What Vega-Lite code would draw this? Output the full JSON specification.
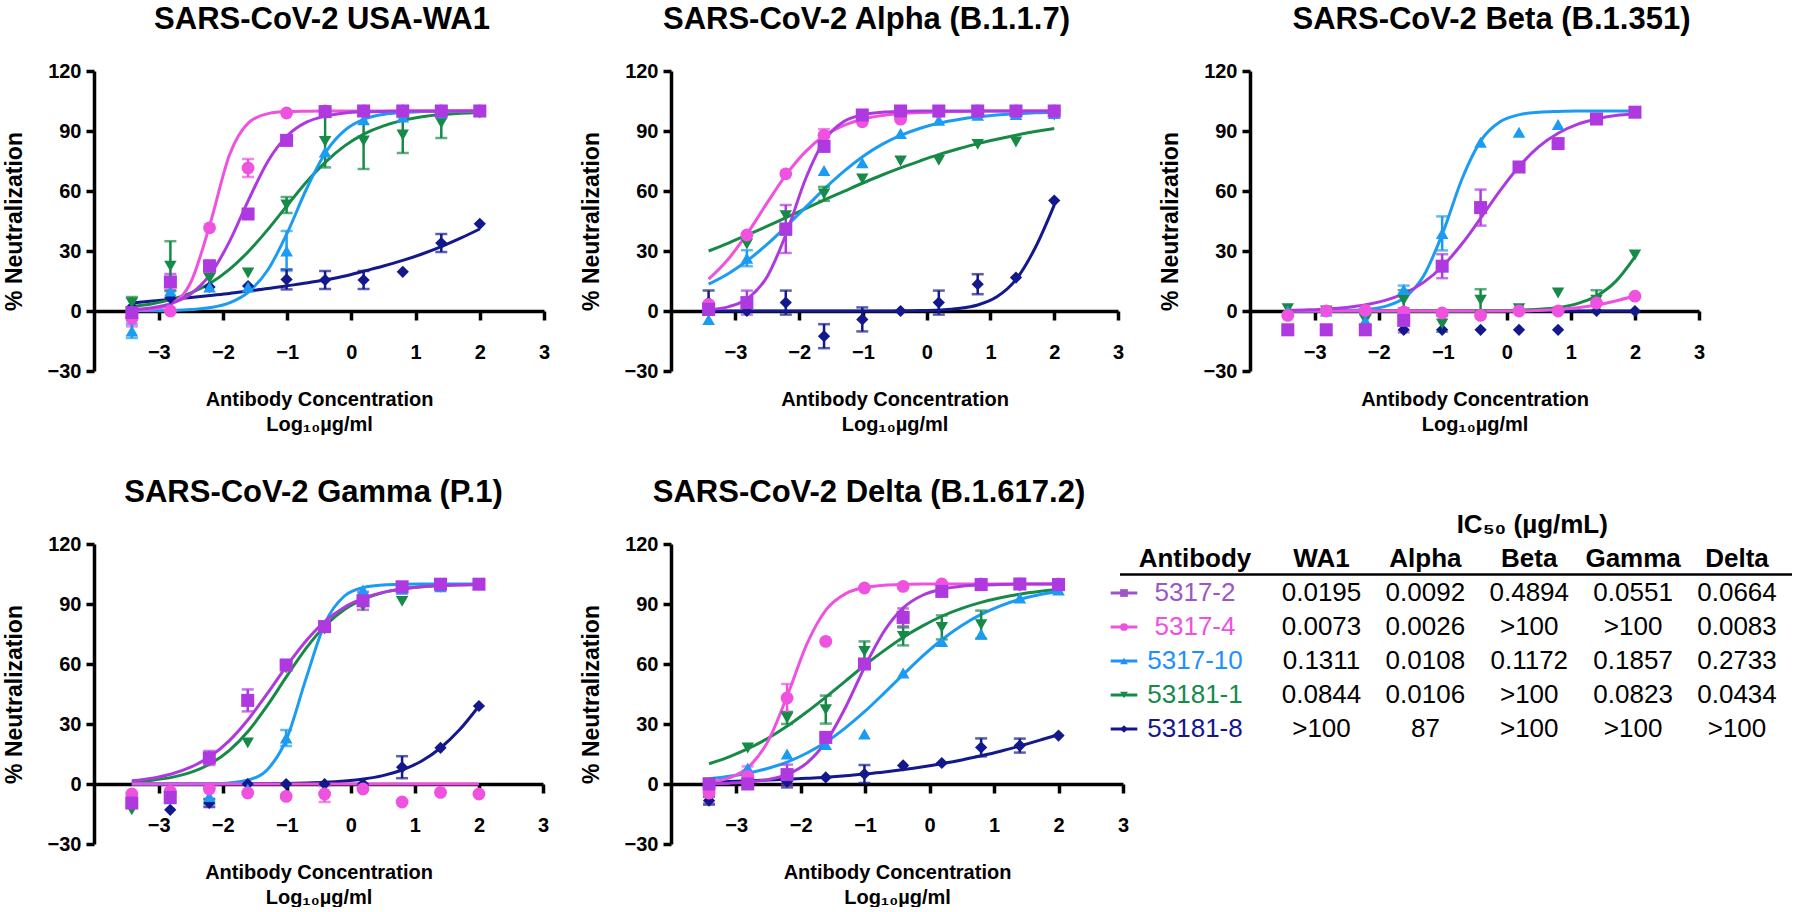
{
"$schema":"https://vega.github.io/schema/vega-lite/v6.json",
"padding":{"left":3,"top":4,"right":0,"bottom":0},
"background":"white",
"bounds":"flush",
"columns":3,
"spacing":{"row":173,"column":127},
"resolve":{"scale":{"color":"independent","shape":"independent","size":"independent"}},
"datasets":{
"curves":[
{"v":"WA1","x":-3.42,"5317-2":0.66,"5317-4":0.16,"5317-10":0.05,"53181-1":2.2,"53181-8":4.0},
{"v":"WA1","x":-3.1,"5317-2":1.65,"5317-4":0.81,"5317-10":0.12,"53181-1":3.65,"53181-8":5.0},
{"v":"WA1","x":-2.8,"5317-2":3.8,"5317-4":3.6,"5317-10":0.29,"53181-1":5.8,"53181-8":5.8},
{"v":"WA1","x":-2.5,"5317-2":8.6,"5317-4":14.5,"5317-10":0.71,"53181-1":9.1,"53181-8":6.8},
{"v":"WA1","x":-2.2,"5317-2":18.3,"5317-4":43.7,"5317-10":1.7,"53181-1":13.9,"53181-8":7.8},
{"v":"WA1","x":-1.9,"5317-2":34.7,"5317-4":78.0,"5317-10":4.1,"53181-1":20.8,"53181-8":8.8},
{"v":"WA1","x":-1.6,"5317-2":55.7,"5317-4":94.2,"5317-10":9.6,"53181-1":29.9,"53181-8":10.0},
{"v":"WA1","x":-1.3,"5317-2":74.9,"5317-4":98.7,"5317-10":20.6,"53181-1":40.8,"53181-8":11.2},
{"v":"WA1","x":-1.0,"5317-2":87.6,"5317-4":99.7,"5317-10":39.0,"53181-1":52.8,"53181-8":12.6},
{"v":"WA1","x":-0.7,"5317-2":94.4,"5317-4":99.9,"5317-10":61.0,"53181-1":64.5,"53181-8":14.0},
{"v":"WA1","x":-0.4,"5317-2":97.5,"5317-4":100,"5317-10":79.4,"53181-1":74.6,"53181-8":15.6},
{"v":"WA1","x":-0.1,"5317-2":99.0,"5317-4":100,"5317-10":90.4,"53181-1":82.7,"53181-8":17.5},
{"v":"WA1","x":0.2,"5317-2":99.6,"5317-4":100,"5317-10":95.9,"53181-1":88.6,"53181-8":20.0},
{"v":"WA1","x":0.5,"5317-2":99.8,"5317-4":100,"5317-10":98.3,"53181-1":92.6,"53181-8":22.5},
{"v":"WA1","x":0.8,"5317-2":99.9,"5317-4":100,"5317-10":99.3,"53181-1":95.3,"53181-8":25.3},
{"v":"WA1","x":1.1,"5317-2":100,"5317-4":100,"5317-10":99.7,"53181-1":97.1,"53181-8":28.5},
{"v":"WA1","x":1.4,"5317-2":100,"5317-4":100,"5317-10":99.9,"53181-1":98.2,"53181-8":32.2},
{"v":"WA1","x":1.7,"5317-2":100,"5317-4":100,"5317-10":100,"53181-1":98.9,"53181-8":36.4},
{"v":"WA1","x":2.0,"5317-2":100,"5317-4":100,"5317-10":100,"53181-1":99.3,"53181-8":41.0},
{"v":"Alpha","x":-3.42,"5317-2":0.7,"5317-4":15.9,"5317-10":13.4,"53181-1":30.0,"53181-8":0},
{"v":"Alpha","x":-3.1,"5317-2":2.2,"5317-4":26.4,"5317-10":18.9,"53181-1":34.1,"53181-8":0},
{"v":"Alpha","x":-2.8,"5317-2":6.4,"5317-4":39.4,"5317-10":25.5,"53181-1":38.2,"53181-8":0},
{"v":"Alpha","x":-2.5,"5317-2":17.3,"5317-4":54.2,"5317-10":33.4,"53181-1":42.4,"53181-8":0},
{"v":"Alpha","x":-2.2,"5317-2":38.9,"5317-4":68.3,"5317-10":42.4,"53181-1":46.8,"53181-8":0},
{"v":"Alpha","x":-1.9,"5317-2":66.0,"5317-4":79.7,"5317-10":51.8,"53181-1":51.2,"53181-8":0},
{"v":"Alpha","x":-1.6,"5317-2":85.5,"5317-4":87.7,"5317-10":61.2,"53181-1":55.6,"53181-8":0},
{"v":"Alpha","x":-1.3,"5317-2":94.7,"5317-4":92.8,"5317-10":69.8,"53181-1":59.8,"53181-8":0},
{"v":"Alpha","x":-1.0,"5317-2":98.2,"5317-4":95.9,"5317-10":77.3,"53181-1":64.0,"53181-8":0},
{"v":"Alpha","x":-0.7,"5317-2":99.4,"5317-4":97.7,"5317-10":83.3,"53181-1":68.0,"53181-8":0.03},
{"v":"Alpha","x":-0.4,"5317-2":99.8,"5317-4":98.7,"5317-10":87.9,"53181-1":71.7,"53181-8":0.09},
{"v":"Alpha","x":-0.1,"5317-2":100,"5317-4":99.3,"5317-10":91.4,"53181-1":75.1,"53181-8":0.21},
{"v":"Alpha","x":0.2,"5317-2":100,"5317-4":99.6,"5317-10":94.0,"53181-1":78.3,"53181-8":0.51},
{"v":"Alpha","x":0.5,"5317-2":100,"5317-4":99.8,"5317-10":95.8,"53181-1":81.1,"53181-8":1.25},
{"v":"Alpha","x":0.8,"5317-2":100,"5317-4":99.9,"5317-10":97.1,"53181-1":83.7,"53181-8":3.0},
{"v":"Alpha","x":1.1,"5317-2":100,"5317-4":100,"5317-10":98.0,"53181-1":85.9,"53181-8":7.1},
{"v":"Alpha","x":1.4,"5317-2":100,"5317-4":100,"5317-10":98.6,"53181-1":87.9,"53181-8":15.7},
{"v":"Alpha","x":1.7,"5317-2":100,"5317-4":100,"5317-10":99.1,"53181-1":89.7,"53181-8":31.5},
{"v":"Alpha","x":2.0,"5317-2":100,"5317-4":100,"5317-10":99.4,"53181-1":91.2,"53181-8":53.0},
{"v":"Beta","x":-3.42,"5317-2":0.34,"5317-4":0,"5317-10":0.01,"53181-1":0,"53181-8":0},
{"v":"Beta","x":-3.1,"5317-2":0.6,"5317-4":0,"5317-10":0.03,"53181-1":0,"53181-8":0},
{"v":"Beta","x":-2.8,"5317-2":1.05,"5317-4":0,"5317-10":0.08,"53181-1":0,"53181-8":0},
{"v":"Beta","x":-2.5,"5317-2":1.8,"5317-4":0,"5317-10":0.26,"53181-1":0,"53181-8":0},
{"v":"Beta","x":-2.2,"5317-2":3.1,"5317-4":0,"5317-10":0.77,"53181-1":0,"53181-8":0},
{"v":"Beta","x":-1.9,"5317-2":5.3,"5317-4":0,"5317-10":2.3,"53181-1":0,"53181-8":0},
{"v":"Beta","x":-1.6,"5317-2":8.8,"5317-4":0,"5317-10":6.6,"53181-1":0,"53181-8":0},
{"v":"Beta","x":-1.3,"5317-2":14.3,"5317-4":0,"5317-10":17.5,"53181-1":0,"53181-8":0},
{"v":"Beta","x":-1.0,"5317-2":22.5,"5317-4":0,"5317-10":39.1,"53181-1":0,"53181-8":0},
{"v":"Beta","x":-0.7,"5317-2":33.6,"5317-4":0,"5317-10":66.0,"53181-1":0.04,"53181-8":0},
{"v":"Beta","x":-0.4,"5317-2":46.8,"5317-4":0,"5317-10":85.4,"53181-1":0.09,"53181-8":0},
{"v":"Beta","x":-0.1,"5317-2":60.4,"5317-4":0,"5317-10":94.7,"53181-1":0.18,"53181-8":0},
{"v":"Beta","x":0.2,"5317-2":72.6,"5317-4":0,"5317-10":98.2,"53181-1":0.39,"53181-8":0},
{"v":"Beta","x":0.5,"5317-2":82.2,"5317-4":0.3,"5317-10":99.4,"53181-1":0.83,"53181-8":0},
{"v":"Beta","x":0.8,"5317-2":88.9,"5317-4":0.8,"5317-10":99.8,"53181-1":1.75,"53181-8":0},
{"v":"Beta","x":1.1,"5317-2":93.3,"5317-4":1.6,"5317-10":100,"53181-1":3.7,"53181-8":0},
{"v":"Beta","x":1.4,"5317-2":96.0,"5317-4":3.0,"5317-10":100,"53181-1":7.5,"53181-8":0},
{"v":"Beta","x":1.7,"5317-2":97.7,"5317-4":5.0,"5317-10":100,"53181-1":14.8,"53181-8":0},
{"v":"Beta","x":2.0,"5317-2":98.6,"5317-4":7.6,"5317-10":100,"53181-1":27.1,"53181-8":0},
{"v":"Gamma","x":-3.42,"5317-2":1.6,"5317-4":0,"5317-10":0,"53181-1":1.0,"53181-8":0},
{"v":"Gamma","x":-3.1,"5317-2":2.9,"5317-4":0,"5317-10":0,"53181-1":1.9,"53181-8":0.01},
{"v":"Gamma","x":-2.8,"5317-2":5.0,"5317-4":0,"5317-10":0.01,"53181-1":3.3,"53181-8":0.01},
{"v":"Gamma","x":-2.5,"5317-2":8.4,"5317-4":0,"5317-10":0.04,"53181-1":5.8,"53181-8":0.02},
{"v":"Gamma","x":-2.2,"5317-2":13.7,"5317-4":0,"5317-10":0.15,"53181-1":10.0,"53181-8":0.04},
{"v":"Gamma","x":-1.9,"5317-2":21.6,"5317-4":0,"5317-10":0.55,"53181-1":16.7,"53181-8":0.06},
{"v":"Gamma","x":-1.6,"5317-2":32.4,"5317-4":0,"5317-10":2.0,"53181-1":26.5,"53181-8":0.1},
{"v":"Gamma","x":-1.3,"5317-2":45.4,"5317-4":0,"5317-10":7.3,"53181-1":39.4,"53181-8":0.18},
{"v":"Gamma","x":-1.0,"5317-2":59.1,"5317-4":0,"5317-10":22.8,"53181-1":53.9,"53181-8":0.3},
{"v":"Gamma","x":-0.7,"5317-2":71.5,"5317-4":0,"5317-10":52.7,"53181-1":67.8,"53181-8":0.52},
{"v":"Gamma","x":-0.4,"5317-2":81.4,"5317-4":0,"5317-10":80.7,"53181-1":79.1,"53181-8":0.87},
{"v":"Gamma","x":-0.1,"5317-2":88.4,"5317-4":0,"5317-10":94.0,"53181-1":87.2,"53181-8":1.5},
{"v":"Gamma","x":0.2,"5317-2":92.9,"5317-4":0,"5317-10":98.3,"53181-1":92.4,"53181-8":2.5},
{"v":"Gamma","x":0.5,"5317-2":95.8,"5317-4":0,"5317-10":99.5,"53181-1":95.7,"53181-8":4.2},
{"v":"Gamma","x":0.8,"5317-2":97.5,"5317-4":0,"5317-10":99.9,"53181-1":97.5,"53181-8":7.0},
{"v":"Gamma","x":1.1,"5317-2":98.6,"5317-4":0,"5317-10":100,"53181-1":98.6,"53181-8":11.4},
{"v":"Gamma","x":1.4,"5317-2":99.2,"5317-4":0,"5317-10":100,"53181-1":99.2,"53181-8":18.0},
{"v":"Gamma","x":1.7,"5317-2":99.5,"5317-4":0,"5317-10":100,"53181-1":99.6,"53181-8":27.2},
{"v":"Gamma","x":2.0,"5317-2":99.7,"5317-4":0,"5317-10":100,"53181-1":99.8,"53181-8":39.0},
{"v":"Delta","x":-3.42,"5317-2":0.18,"5317-4":1.0,"5317-10":2.6,"53181-1":10.1,"53181-8":1.0},
{"v":"Delta","x":-3.1,"5317-2":0.43,"5317-4":3.1,"5317-10":3.9,"53181-1":13.7,"53181-8":1.3},
{"v":"Delta","x":-2.8,"5317-2":0.98,"5317-4":8.7,"5317-10":5.5,"53181-1":17.9,"53181-8":1.6},
{"v":"Delta","x":-2.5,"5317-2":2.2,"5317-4":21.7,"5317-10":7.9,"53181-1":23.0,"53181-8":2.0},
{"v":"Delta","x":-2.2,"5317-2":4.9,"5317-4":44.7,"5317-10":11.1,"53181-1":29.1,"53181-8":2.4},
{"v":"Delta","x":-1.9,"5317-2":10.6,"5317-4":70.2,"5317-10":15.5,"53181-1":36.1,"53181-8":2.9},
{"v":"Delta","x":-1.6,"5317-2":21.4,"5317-4":87.3,"5317-10":21.1,"53181-1":43.7,"53181-8":3.4},
{"v":"Delta","x":-1.3,"5317-2":38.5,"5317-4":95.2,"5317-10":28.2,"53181-1":51.6,"53181-8":4.1},
{"v":"Delta","x":-1.0,"5317-2":58.9,"5317-4":98.3,"5317-10":36.4,"53181-1":59.5,"53181-8":5.0},
{"v":"Delta","x":-0.7,"5317-2":76.6,"5317-4":99.4,"5317-10":45.6,"53181-1":66.8,"53181-8":6.0},
{"v":"Delta","x":-0.4,"5317-2":88.3,"5317-4":99.8,"5317-10":55.0,"53181-1":73.5,"53181-8":7.2},
{"v":"Delta","x":-0.1,"5317-2":94.5,"5317-4":100,"5317-10":64.2,"53181-1":79.2,"53181-8":8.6},
{"v":"Delta","x":0.2,"5317-2":97.5,"5317-4":100,"5317-10":72.4,"53181-1":84.0,"53181-8":10.2},
{"v":"Delta","x":0.5,"5317-2":98.9,"5317-4":100,"5317-10":79.3,"53181-1":87.8,"53181-8":12.0},
{"v":"Delta","x":0.8,"5317-2":99.5,"5317-4":100,"5317-10":84.8,"53181-1":90.8,"53181-8":14.1},
{"v":"Delta","x":1.1,"5317-2":99.8,"5317-4":100,"5317-10":89.1,"53181-1":93.1,"53181-8":16.4},
{"v":"Delta","x":1.4,"5317-2":99.9,"5317-4":100,"5317-10":92.3,"53181-1":94.9,"53181-8":19.0},
{"v":"Delta","x":1.7,"5317-2":100,"5317-4":100,"5317-10":94.6,"53181-1":96.2,"53181-8":21.8},
{"v":"Delta","x":2.0,"5317-2":100,"5317-4":100,"5317-10":96.2,"53181-1":97.2,"53181-8":24.8}
],
"pts":[
{"v":"WA1","x":-3.42,"5317-2":-0.8,"5317-4":-3.7,"5317-10":-10,"53181-1":4,"53181-8":2},
{"v":"WA1","x":-2.82,"5317-2":14.5,"5317-4":0,"5317-10":10,"53181-1":22.4,"53181-8":6.6},
{"v":"WA1","x":-2.21,"5317-2":22.4,"5317-4":41.6,"5317-10":12,"53181-1":16.3,"53181-8":12},
{"v":"WA1","x":-1.61,"5317-2":48.5,"5317-4":71.5,"5317-10":12,"53181-1":19,"53181-8":12.5},
{"v":"WA1","x":-1.01,"5317-2":85.3,"5317-4":99,"5317-10":30,"53181-1":53,"53181-8":15.8},
{"v":"WA1","x":-0.41,"5317-2":99.7,"5317-4":100,"5317-10":79.5,"53181-1":84.8,"53181-8":15.5},
{"v":"WA1","x":0.19,"5317-2":100,"5317-4":100,"5317-10":95.6,"53181-1":85,"53181-8":15.5},
{"v":"WA1","x":0.8,"5317-2":100,"5317-4":100,"5317-10":97,"53181-1":88,"53181-8":19.6},
{"v":"WA1","x":1.4,"5317-2":100,"5317-4":100,"5317-10":99,"53181-1":94,"53181-8":34},
{"v":"WA1","x":2,"5317-2":100,"5317-4":100,"5317-10":100,"53181-1":99,"53181-8":43.6},
{"v":"Alpha","x":-3.42,"5317-2":0.8,"5317-4":3.3,"5317-10":-4.2,"53181-1":-1,"53181-8":4.2},
{"v":"Alpha","x":-2.82,"5317-2":4.2,"5317-4":38,"5317-10":26.4,"53181-1":33.5,"53181-8":0},
{"v":"Alpha","x":-2.21,"5317-2":41,"5317-4":68.6,"5317-10":40.2,"53181-1":47.7,"53181-8":4.2},
{"v":"Alpha","x":-1.61,"5317-2":82.3,"5317-4":87.9,"5317-10":70.3,"53181-1":58.6,"53181-8":-12.6},
{"v":"Alpha","x":-1.01,"5317-2":98,"5317-4":94.6,"5317-10":74.1,"53181-1":66.1,"53181-8":-4.2},
{"v":"Alpha","x":-0.41,"5317-2":100,"5317-4":95.9,"5317-10":88.7,"53181-1":75,"53181-8":0},
{"v":"Alpha","x":0.19,"5317-2":100,"5317-4":99.6,"5317-10":95.4,"53181-1":75.3,"53181-8":4.2},
{"v":"Alpha","x":0.8,"5317-2":100,"5317-4":100,"5317-10":97.9,"53181-1":83.3,"53181-8":13.4},
{"v":"Alpha","x":1.4,"5317-2":100,"5317-4":100,"5317-10":98.2,"53181-1":84.5,"53181-8":16.7},
{"v":"Alpha","x":2,"5317-2":100,"5317-4":100,"5317-10":98.7,"53181-1":97.9,"53181-8":55.2},
{"v":"Beta","x":-3.42,"5317-2":-9.4,"5317-4":-2.2,"5317-10":0,"53181-1":1.2,"53181-8":-9.4},
{"v":"Beta","x":-2.82,"5317-2":-9.4,"5317-4":0,"5317-10":0,"53181-1":0,"53181-8":-9.4},
{"v":"Beta","x":-2.21,"5317-2":-9.4,"5317-4":0.3,"5317-10":-4.7,"53181-1":-4.4,"53181-8":-9.4},
{"v":"Beta","x":-1.61,"5317-2":-4.7,"5317-4":-0.5,"5317-10":10.7,"53181-1":5.4,"53181-8":-9.4},
{"v":"Beta","x":-1.01,"5317-2":22.4,"5317-4":-1,"5317-10":38.8,"53181-1":-6.4,"53181-8":-9.4},
{"v":"Beta","x":-0.41,"5317-2":51.7,"5317-4":-2.2,"5317-10":84.4,"53181-1":5.4,"53181-8":-9.4},
{"v":"Beta","x":0.19,"5317-2":72,"5317-4":0,"5317-10":89.4,"53181-1":1.2,"53181-8":-9.4},
{"v":"Beta","x":0.8,"5317-2":83.7,"5317-4":0,"5317-10":93.2,"53181-1":9,"53181-8":-9.4},
{"v":"Beta","x":1.4,"5317-2":96,"5317-4":4,"5317-10":95.7,"53181-1":5.4,"53181-8":0},
{"v":"Beta","x":2,"5317-2":99.4,"5317-4":7.4,"5317-10":99.4,"53181-1":28,"53181-8":0},
{"v":"Gamma","x":-3.42,"5317-2":-9.5,"5317-4":-5,"5317-10":-8.7,"53181-1":-12.9,"53181-8":-10},
{"v":"Gamma","x":-2.82,"5317-2":-6.7,"5317-4":-3.7,"5317-10":-7.4,"53181-1":-7,"53181-8":-12.9},
{"v":"Gamma","x":-2.21,"5317-2":13,"5317-4":-2.5,"5317-10":-6.2,"53181-1":12,"53181-8":-9.5},
{"v":"Gamma","x":-1.61,"5317-2":41.8,"5317-4":-4.5,"5317-10":-2.5,"53181-1":20.6,"53181-8":0},
{"v":"Gamma","x":-1.01,"5317-2":59.5,"5317-4":-6.2,"5317-10":23,"53181-1":58,"53181-8":0},
{"v":"Gamma","x":-0.41,"5317-2":78.7,"5317-4":-5,"5317-10":78.2,"53181-1":77.4,"53181-8":0},
{"v":"Gamma","x":0.19,"5317-2":91.6,"5317-4":-2.5,"5317-10":97,"53181-1":89,"53181-8":0},
{"v":"Gamma","x":0.8,"5317-2":98.6,"5317-4":-9,"5317-10":97.4,"53181-1":91.3,"53181-8":8.4},
{"v":"Gamma","x":1.4,"5317-2":99.9,"5317-4":-4.2,"5317-10":98.6,"53181-1":98.3,"53181-8":18.1},
{"v":"Gamma","x":2,"5317-2":99.9,"5317-4":-5,"5317-10":100,"53181-1":99.5,"53181-8":39},
{"v":"Delta","x":-3.42,"5317-2":0,"5317-4":-4.5,"5317-10":0,"53181-1":0.5,"53181-8":-8.3},
{"v":"Delta","x":-2.82,"5317-2":0,"5317-4":3.8,"5317-10":8,"53181-1":18,"53181-8":0},
{"v":"Delta","x":-2.21,"5317-2":4.7,"5317-4":43,"5317-10":15,"53181-1":33,"53181-8":1.3},
{"v":"Delta","x":-1.61,"5317-2":23.3,"5317-4":71.3,"5317-10":19.7,"53181-1":37.2,"53181-8":3.3},
{"v":"Delta","x":-1.01,"5317-2":60,"5317-4":98,"5317-10":25,"53181-1":66.3,"53181-8":5},
{"v":"Delta","x":-0.41,"5317-2":83.3,"5317-4":98.8,"5317-10":55.5,"53181-1":73.8,"53181-8":9.3},
{"v":"Delta","x":0.19,"5317-2":96.3,"5317-4":100,"5317-10":71.3,"53181-1":78.3,"53181-8":10.5},
{"v":"Delta","x":0.8,"5317-2":99.7,"5317-4":100,"5317-10":75,"53181-1":79.7,"53181-8":18.3},
{"v":"Delta","x":1.4,"5317-2":100,"5317-4":100,"5317-10":93,"53181-1":98.8,"53181-8":19.2},
{"v":"Delta","x":2,"5317-2":99.7,"5317-4":100,"5317-10":97,"53181-1":100,"53181-8":24.2}
],
"err":[
{"v":"WA1","ab":"5317-2","x":-2.82,"y":14.5,"e":4},
{"v":"WA1","ab":"5317-2","x":-2.21,"y":22.4,"e":3},
{"v":"WA1","ab":"5317-4","x":-3.42,"y":-3.7,"e":4},
{"v":"WA1","ab":"5317-4","x":-1.61,"y":71.5,"e":4.5},
{"v":"WA1","ab":"5317-10","x":-3.42,"y":-10,"e":3.5},
{"v":"WA1","ab":"5317-10","x":-1.01,"y":30,"e":10},
{"v":"WA1","ab":"53181-1","x":-3.42,"y":4,"e":3},
{"v":"WA1","ab":"53181-1","x":-2.82,"y":22.4,"e":12.5},
{"v":"WA1","ab":"53181-1","x":-1.01,"y":53,"e":4},
{"v":"WA1","ab":"53181-1","x":-0.41,"y":84.8,"e":13},
{"v":"WA1","ab":"53181-1","x":0.19,"y":85,"e":14},
{"v":"WA1","ab":"53181-1","x":0.8,"y":88,"e":9},
{"v":"WA1","ab":"53181-1","x":1.4,"y":94,"e":7.5},
{"v":"WA1","ab":"53181-8","x":-1.01,"y":15.8,"e":5},
{"v":"WA1","ab":"53181-8","x":-0.41,"y":15.5,"e":4.5},
{"v":"WA1","ab":"53181-8","x":0.19,"y":15.5,"e":4.5},
{"v":"WA1","ab":"53181-8","x":1.4,"y":34,"e":4.5},
{"v":"Alpha","ab":"5317-2","x":-2.82,"y":4.2,"e":6},
{"v":"Alpha","ab":"5317-2","x":-2.21,"y":41,"e":12},
{"v":"Alpha","ab":"5317-4","x":-1.61,"y":87.9,"e":3},
{"v":"Alpha","ab":"5317-10","x":-2.82,"y":26.4,"e":4},
{"v":"Alpha","ab":"53181-1","x":-1.61,"y":58.6,"e":3.5},
{"v":"Alpha","ab":"53181-8","x":-3.42,"y":4.2,"e":6},
{"v":"Alpha","ab":"53181-8","x":-2.21,"y":4.2,"e":6},
{"v":"Alpha","ab":"53181-8","x":-1.61,"y":-12.6,"e":6},
{"v":"Alpha","ab":"53181-8","x":-1.01,"y":-4.2,"e":6},
{"v":"Alpha","ab":"53181-8","x":0.19,"y":4.2,"e":6},
{"v":"Alpha","ab":"53181-8","x":0.8,"y":13.4,"e":5},
{"v":"Beta","ab":"5317-2","x":-1.61,"y":-4.7,"e":6},
{"v":"Beta","ab":"5317-2","x":-1.01,"y":22.4,"e":6},
{"v":"Beta","ab":"5317-2","x":-0.41,"y":51.7,"e":9},
{"v":"Beta","ab":"5317-10","x":-2.21,"y":-4.7,"e":3},
{"v":"Beta","ab":"5317-10","x":-1.61,"y":10.7,"e":2},
{"v":"Beta","ab":"5317-10","x":-1.01,"y":38.8,"e":8.5},
{"v":"Beta","ab":"53181-1","x":-2.21,"y":-4.4,"e":3},
{"v":"Beta","ab":"53181-1","x":-1.61,"y":5.4,"e":5},
{"v":"Beta","ab":"53181-1","x":-1.01,"y":-6.4,"e":4},
{"v":"Beta","ab":"53181-1","x":-0.41,"y":5.4,"e":5.5},
{"v":"Beta","ab":"53181-1","x":1.4,"y":5.4,"e":5},
{"v":"Gamma","ab":"5317-2","x":-2.21,"y":13,"e":3.5},
{"v":"Gamma","ab":"5317-2","x":-1.61,"y":41.8,"e":5.5},
{"v":"Gamma","ab":"5317-2","x":0.19,"y":91.6,"e":4.5},
{"v":"Gamma","ab":"5317-4","x":-0.41,"y":-5,"e":4},
{"v":"Gamma","ab":"5317-10","x":-2.82,"y":-7.4,"e":2},
{"v":"Gamma","ab":"5317-10","x":-2.21,"y":-6.2,"e":4},
{"v":"Gamma","ab":"5317-10","x":-1.01,"y":23,"e":4},
{"v":"Gamma","ab":"53181-8","x":-2.21,"y":-9.5,"e":2},
{"v":"Gamma","ab":"53181-8","x":0.8,"y":8.4,"e":5.5},
{"v":"Delta","ab":"5317-2","x":-2.21,"y":4.7,"e":5},
{"v":"Delta","ab":"5317-2","x":-0.41,"y":83.3,"e":4.5},
{"v":"Delta","ab":"5317-4","x":-3.42,"y":-4.5,"e":5},
{"v":"Delta","ab":"5317-4","x":-2.82,"y":3.8,"e":5},
{"v":"Delta","ab":"5317-4","x":-2.21,"y":43,"e":7},
{"v":"Delta","ab":"53181-1","x":-2.21,"y":33,"e":3},
{"v":"Delta","ab":"53181-1","x":-1.61,"y":37.2,"e":7},
{"v":"Delta","ab":"53181-1","x":-1.01,"y":66.3,"e":5},
{"v":"Delta","ab":"53181-1","x":-0.41,"y":73.8,"e":4.5},
{"v":"Delta","ab":"53181-1","x":0.19,"y":78.3,"e":6},
{"v":"Delta","ab":"53181-1","x":0.8,"y":79.7,"e":7},
{"v":"Delta","ab":"53181-8","x":-3.42,"y":-8.3,"e":2},
{"v":"Delta","ab":"53181-8","x":-2.21,"y":1.3,"e":3},
{"v":"Delta","ab":"53181-8","x":-1.01,"y":5,"e":4.5},
{"v":"Delta","ab":"53181-8","x":0.8,"y":18.3,"e":4.5},
{"v":"Delta","ab":"53181-8","x":1.4,"y":19.2,"e":3.5}
],
"ic50":[
{"ab":"5317-2","WA1":"0.0195","Alpha":"0.0092","Beta":"0.4894","Gamma":"0.0551","Delta":"0.0664"},
{"ab":"5317-4","WA1":"0.0073","Alpha":"0.0026","Beta":">100","Gamma":">100","Delta":"0.0083"},
{"ab":"5317-10","WA1":"0.1311","Alpha":"0.0108","Beta":"0.1172","Gamma":"0.1857","Delta":"0.2733"},
{"ab":"53181-1","WA1":"0.0844","Alpha":"0.0106","Beta":">100","Gamma":"0.0823","Delta":"0.0434"},
{"ab":"53181-8","WA1":">100","Alpha":"87","Beta":">100","Gamma":">100","Delta":">100"}
],
"hdr":[{"col":"WA1"},{"col":"Alpha"},{"col":"Beta"},{"col":"Gamma"},{"col":"Delta"}],
"one":[{"k":1}]
},
"concat":[
 {"width":450,"height":300,
  "title":{"text":"SARS-CoV-2 USA-WA1","dx":3},
  "encoding":{
   "x":{"field":"x","type":"quantitative","scale":{"domain":[-4.01,3],"nice":false,"zero":false},"axis":{"values":[-3,-2,-1,0,1,2,3],"offset":-60,"title":["Antibody Concentration","Log₁₀µg/ml"],"titleFontSize":20,"titlePadding":27,"titleLineHeight":25,"labelPadding":22,"tickSize":9,"labelFlush":false}},
   "y":{"field":"y","type":"quantitative","scale":{"domain":[-30,120],"nice":false,"zero":false},"axis":{"values":[-30,0,30,60,90,120],"title":"% Neutralization","titleFontSize":23,"titlePadding":21,"labelPadding":5,"tickSize":8}},
   "color":{"field":"ab","type":"nominal","scale":{"domain":["5317-2","5317-4","5317-10","53181-1","53181-8"],"range":["#AE3ADF","#F052E0","#1B9CF2","#178A48","#13198C"]},"legend":null}
  },
  "layer":[
   {"data":{"name":"curves"},"transform":[{"filter":"datum.v==='WA1'"},{"fold":["53181-8","53181-1","5317-10","5317-4","5317-2"],"as":["ab","y"]}],"mark":{"type":"line","strokeWidth":3,"interpolate":"monotone"}},
   {"data":{"name":"err"},"transform":[{"filter":"datum.v==='WA1'"}],"mark":{"type":"errorbar","thickness":2.5,"ticks":{"size":12,"thickness":2.5}},"encoding":{"yError":{"field":"e"}}},
   {"data":{"name":"pts"},"transform":[{"filter":"datum.v==='WA1'"},{"fold":["53181-8","53181-1","5317-10","5317-4","5317-2"],"as":["ab","y"]}],"mark":{"type":"point","filled":true,"opacity":1},"encoding":{"shape":{"field":"ab","type":"nominal","scale":{"domain":["5317-2","5317-4","5317-10","53181-1","53181-8"],"range":["square","circle","triangle-up","triangle-down","diamond"]},"legend":null},"size":{"field":"ab","type":"ordinal","scale":{"domain":["5317-2","5317-4","5317-10","53181-1","53181-8"],"range":[170,150,180,180,110]},"legend":null}}}
  ]
 },
 {"width":447,"height":300,
  "title":{"text":"SARS-CoV-2 Alpha (B.1.1.7)","dx":-28},
  "encoding":{
   "x":{"field":"x","type":"quantitative","scale":{"domain":[-4.01,3],"nice":false,"zero":false},"axis":{"values":[-3,-2,-1,0,1,2,3],"offset":-60,"title":["Antibody Concentration","Log₁₀µg/ml"],"titleFontSize":20,"titlePadding":27,"titleLineHeight":25,"labelPadding":22,"tickSize":9,"labelFlush":false}},
   "y":{"field":"y","type":"quantitative","scale":{"domain":[-30,120],"nice":false,"zero":false},"axis":{"values":[-30,0,30,60,90,120],"title":"% Neutralization","titleFontSize":23,"titlePadding":21,"labelPadding":5,"tickSize":8}},
   "color":{"field":"ab","type":"nominal","scale":{"domain":["5317-2","5317-4","5317-10","53181-1","53181-8"],"range":["#AE3ADF","#F052E0","#1B9CF2","#178A48","#13198C"]},"legend":null}
  },
  "layer":[
   {"data":{"name":"curves"},"transform":[{"filter":"datum.v==='Alpha'"},{"fold":["53181-8","53181-1","5317-10","5317-4","5317-2"],"as":["ab","y"]}],"mark":{"type":"line","strokeWidth":3,"interpolate":"monotone"}},
   {"data":{"name":"err"},"transform":[{"filter":"datum.v==='Alpha'"}],"mark":{"type":"errorbar","thickness":2.5,"ticks":{"size":12,"thickness":2.5}},"encoding":{"yError":{"field":"e"}}},
   {"data":{"name":"pts"},"transform":[{"filter":"datum.v==='Alpha'"},{"fold":["53181-8","53181-1","5317-10","5317-4","5317-2"],"as":["ab","y"]}],"mark":{"type":"point","filled":true,"opacity":1},"encoding":{"shape":{"field":"ab","type":"nominal","scale":{"domain":["5317-2","5317-4","5317-10","53181-1","53181-8"],"range":["square","circle","triangle-up","triangle-down","diamond"]},"legend":null},"size":{"field":"ab","type":"ordinal","scale":{"domain":["5317-2","5317-4","5317-10","53181-1","53181-8"],"range":[170,150,180,180,110]},"legend":null}}}
  ]
 },
 {"width":449,"height":300,
  "title":{"text":"SARS-CoV-2 Beta (B.1.351)","dx":17},
  "encoding":{
   "x":{"field":"x","type":"quantitative","scale":{"domain":[-4.01,3],"nice":false,"zero":false},"axis":{"values":[-3,-2,-1,0,1,2,3],"offset":-60,"title":["Antibody Concentration","Log₁₀µg/ml"],"titleFontSize":20,"titlePadding":27,"titleLineHeight":25,"labelPadding":22,"tickSize":9,"labelFlush":false}},
   "y":{"field":"y","type":"quantitative","scale":{"domain":[-30,120],"nice":false,"zero":false},"axis":{"values":[-30,0,30,60,90,120],"title":"% Neutralization","titleFontSize":23,"titlePadding":21,"labelPadding":5,"tickSize":8}},
   "color":{"field":"ab","type":"nominal","scale":{"domain":["5317-2","5317-4","5317-10","53181-1","53181-8"],"range":["#AE3ADF","#F052E0","#1B9CF2","#178A48","#13198C"]},"legend":null}
  },
  "layer":[
   {"data":{"name":"curves"},"transform":[{"filter":"datum.v==='Beta'"},{"fold":["53181-8","53181-1","5317-10","5317-4","5317-2"],"as":["ab","y"]}],"mark":{"type":"line","strokeWidth":3,"interpolate":"monotone"}},
   {"data":{"name":"err"},"transform":[{"filter":"datum.v==='Beta'"}],"mark":{"type":"errorbar","thickness":2.5,"ticks":{"size":12,"thickness":2.5}},"encoding":{"yError":{"field":"e"}}},
   {"data":{"name":"pts"},"transform":[{"filter":"datum.v==='Beta'"},{"fold":["53181-8","53181-1","5317-10","5317-4","5317-2"],"as":["ab","y"]}],"mark":{"type":"point","filled":true,"opacity":1},"encoding":{"shape":{"field":"ab","type":"nominal","scale":{"domain":["5317-2","5317-4","5317-10","53181-1","53181-8"],"range":["square","circle","triangle-up","triangle-down","diamond"]},"legend":null},"size":{"field":"ab","type":"ordinal","scale":{"domain":["5317-2","5317-4","5317-10","53181-1","53181-8"],"range":[170,150,180,180,110]},"legend":null}}}
  ]
 },
 {"width":449,"height":300,
  "title":{"text":"SARS-CoV-2 Gamma (P.1)","dx":-5},
  "encoding":{
   "x":{"field":"x","type":"quantitative","scale":{"domain":[-4.01,3],"nice":false,"zero":false},"axis":{"values":[-3,-2,-1,0,1,2,3],"offset":-60,"title":["Antibody Concentration","Log₁₀µg/ml"],"titleFontSize":20,"titlePadding":27,"titleLineHeight":25,"labelPadding":22,"tickSize":9,"labelFlush":false}},
   "y":{"field":"y","type":"quantitative","scale":{"domain":[-30,120],"nice":false,"zero":false},"axis":{"values":[-30,0,30,60,90,120],"title":"% Neutralization","titleFontSize":23,"titlePadding":21,"labelPadding":5,"tickSize":8}},
   "color":{"field":"ab","type":"nominal","scale":{"domain":["5317-2","5317-4","5317-10","53181-1","53181-8"],"range":["#AE3ADF","#F052E0","#1B9CF2","#178A48","#13198C"]},"legend":null}
  },
  "layer":[
   {"data":{"name":"curves"},"transform":[{"filter":"datum.v==='Gamma'"},{"fold":["53181-8","53181-1","5317-10","5317-2","5317-4"],"as":["ab","y"]}],"mark":{"type":"line","strokeWidth":3,"interpolate":"monotone"}},
   {"data":{"name":"err"},"transform":[{"filter":"datum.v==='Gamma'"}],"mark":{"type":"errorbar","thickness":2.5,"ticks":{"size":12,"thickness":2.5}},"encoding":{"yError":{"field":"e"}}},
   {"data":{"name":"pts"},"transform":[{"filter":"datum.v==='Gamma'"},{"fold":["53181-8","53181-1","5317-10","5317-4","5317-2"],"as":["ab","y"]}],"mark":{"type":"point","filled":true,"opacity":1},"encoding":{"shape":{"field":"ab","type":"nominal","scale":{"domain":["5317-2","5317-4","5317-10","53181-1","53181-8"],"range":["square","circle","triangle-up","triangle-down","diamond"]},"legend":null},"size":{"field":"ab","type":"ordinal","scale":{"domain":["5317-2","5317-4","5317-10","53181-1","53181-8"],"range":[170,150,180,180,110]},"legend":null}}}
  ]
 },
 {"width":452,"height":300,
  "title":{"text":"SARS-CoV-2 Delta (B.1.617.2)","dx":-28},
  "encoding":{
   "x":{"field":"x","type":"quantitative","scale":{"domain":[-4.01,3],"nice":false,"zero":false},"axis":{"values":[-3,-2,-1,0,1,2,3],"offset":-60,"title":["Antibody Concentration","Log₁₀µg/ml"],"titleFontSize":20,"titlePadding":27,"titleLineHeight":25,"labelPadding":22,"tickSize":9,"labelFlush":false}},
   "y":{"field":"y","type":"quantitative","scale":{"domain":[-30,120],"nice":false,"zero":false},"axis":{"values":[-30,0,30,60,90,120],"title":"% Neutralization","titleFontSize":23,"titlePadding":21,"labelPadding":5,"tickSize":8}},
   "color":{"field":"ab","type":"nominal","scale":{"domain":["5317-2","5317-4","5317-10","53181-1","53181-8"],"range":["#AE3ADF","#F052E0","#1B9CF2","#178A48","#13198C"]},"legend":null}
  },
  "layer":[
   {"data":{"name":"curves"},"transform":[{"filter":"datum.v==='Delta'"},{"fold":["53181-8","53181-1","5317-10","5317-4","5317-2"],"as":["ab","y"]}],"mark":{"type":"line","strokeWidth":3,"interpolate":"monotone"}},
   {"data":{"name":"err"},"transform":[{"filter":"datum.v==='Delta'"}],"mark":{"type":"errorbar","thickness":2.5,"ticks":{"size":12,"thickness":2.5}},"encoding":{"yError":{"field":"e"}}},
   {"data":{"name":"pts"},"transform":[{"filter":"datum.v==='Delta'"},{"fold":["53181-8","53181-1","5317-10","5317-4","5317-2"],"as":["ab","y"]}],"mark":{"type":"point","filled":true,"opacity":1},"encoding":{"shape":{"field":"ab","type":"nominal","scale":{"domain":["5317-2","5317-4","5317-10","53181-1","53181-8"],"range":["square","circle","triangle-up","triangle-down","diamond"]},"legend":null},"size":{"field":"ab","type":"ordinal","scale":{"domain":["5317-2","5317-4","5317-10","53181-1","53181-8"],"range":[170,150,180,180,110]},"legend":null}}}
  ]
 },
 {"width":449,"height":200,
  "layer":[
   {"data":{"name":"one"},"mark":{"type":"rule","strokeWidth":2.5,"color":"black","xOffset":-201.5,"x2Offset":55,"yOffset":15.5},
    "encoding":{"x":{"datum":"WA1","type":"nominal","scale":{"type":"point","domain":["WA1","Alpha","Beta","Gamma","Delta"],"range":[71.5,487],"padding":0},"axis":null},"x2":{"datum":"Delta"},
     "y":{"datum":"H","type":"nominal","scale":{"type":"point","domain":["IC","H","5317-2","5317-4","5317-10","53181-1","53181-8"],"range":[-19,185],"padding":0},"axis":null}}},
   {"data":{"name":"one"},"mark":{"type":"text","text":"IC₅₀ (µg/mL)","font":"Liberation Sans","fontSize":26,"fontWeight":"bold","color":"black","align":"center","baseline":"middle","dx":3},
    "encoding":{"x":{"datum":"Beta","type":"nominal"},"y":{"datum":"IC","type":"nominal"}}},
   {"data":{"name":"one"},"mark":{"type":"text","text":"Antibody","font":"Liberation Sans","fontSize":26,"fontWeight":"bold","color":"black","align":"center","baseline":"middle","dx":-126.5},
    "encoding":{"x":{"datum":"WA1","type":"nominal"},"y":{"datum":"H","type":"nominal"}}},
   {"data":{"name":"hdr"},"mark":{"type":"text","font":"Liberation Sans","fontSize":26,"fontWeight":"bold","color":"black","align":"center","baseline":"middle"},
    "encoding":{"x":{"field":"col","type":"nominal"},"y":{"datum":"H","type":"nominal"},"text":{"field":"col"}}},
   {"data":{"name":"ic50"},"transform":[{"fold":["WA1","Alpha","Beta","Gamma","Delta"],"as":["col","val"]}],"mark":{"type":"text","font":"Liberation Sans","fontSize":26,"color":"black","align":"center","baseline":"middle"},
    "encoding":{"x":{"field":"col","type":"nominal"},"y":{"field":"ab","type":"nominal"},"text":{"field":"val"}}},
   {"data":{"name":"ic50"},"mark":{"type":"text","font":"Liberation Sans","fontSize":26,"align":"center","baseline":"middle","dx":-126.5},
    "encoding":{"x":{"datum":"WA1","type":"nominal"},"y":{"field":"ab","type":"nominal"},"text":{"field":"ab"},
     "color":{"field":"ab","type":"nominal","scale":{"domain":["5317-2","5317-4","5317-10","53181-1","53181-8"],"range":["#9D55C9","#F050E0","#1E90FF","#168A4A","#15168F"]},"legend":null}}},
   {"data":{"name":"ic50"},"mark":{"type":"point","shape":"M-1,0L1,0","size":708,"filled":false,"strokeWidth":3,"opacity":1,"xOffset":-197.5},
    "encoding":{"x":{"datum":"WA1","type":"nominal"},"y":{"field":"ab","type":"nominal"},
     "color":{"field":"ab","type":"nominal","scale":{"domain":["5317-2","5317-4","5317-10","53181-1","53181-8"],"range":["#9D55C9","#F050E0","#1E90FF","#168A4A","#15168F"]},"legend":null}}},
   {"data":{"name":"ic50"},"mark":{"type":"point","filled":true,"size":60,"opacity":1,"xOffset":-197.5},
    "encoding":{"x":{"datum":"WA1","type":"nominal"},"y":{"field":"ab","type":"nominal"},
     "color":{"field":"ab","type":"nominal","scale":{"domain":["5317-2","5317-4","5317-10","53181-1","53181-8"],"range":["#9D55C9","#F050E0","#1E90FF","#168A4A","#15168F"]},"legend":null},
     "shape":{"field":"ab","type":"nominal","scale":{"domain":["5317-2","5317-4","5317-10","53181-1","53181-8"],"range":["square","circle","triangle-up","triangle-down","diamond"]},"legend":null}}}
  ]
 }
],
"config":{
 "view":{"stroke":null},
 "font":"Liberation Sans",
 "title":{"font":"Liberation Sans","fontSize":31,"fontWeight":"bold","color":"black","anchor":"middle","frame":"group","offset":25},
 "axis":{"domainColor":"black","domainWidth":3.5,"tickColor":"black","tickWidth":3.5,"labelColor":"black","labelFont":"Liberation Sans","labelFontWeight":"bold","labelFontSize":20,"titleFont":"Liberation Sans","titleFontWeight":"bold","titleColor":"black","grid":false}
}
}
